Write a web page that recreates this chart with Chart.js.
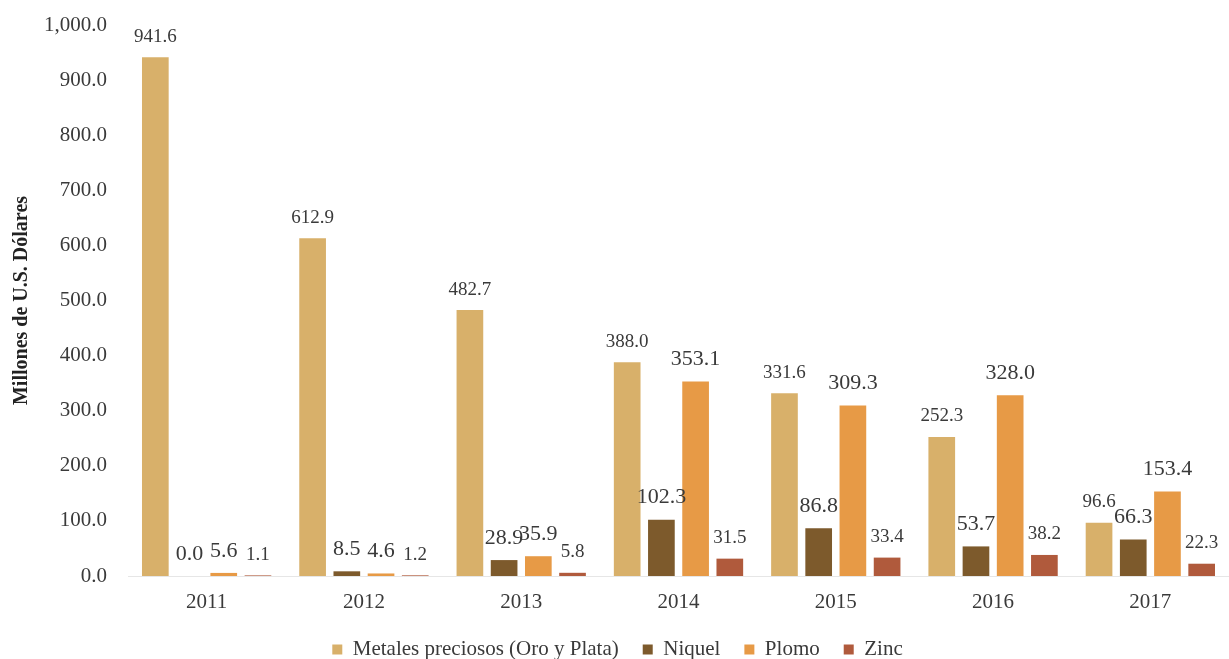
<!DOCTYPE html>
<html>
<head>
<meta charset="utf-8">
<script src="https://cdn.jsdelivr.net/npm/chart.js@4/dist/chart.umd.min.js"></script>
<style>
  html, body { margin: 0; padding: 0; background: #fff; }
  #wrap { width: 1229px; height: 659px; }
</style>
</head>
<body>
<div id="wrap"><canvas id="exportChart"></canvas></div>
<script>
// ====================================================================
// EXPORTACIONES DE METALES 2011-2017
// ====================================================================

const years = ['2011', '2012', '2013', '2014', '2015', '2016', '2017'];
const metales = [941.6, 612.9, 482.7, 388.0, 331.6, 252.3, 96.6];
const niquel = [0.0, 8.5, 28.9, 102.3, 86.8, 53.7, 66.3];
const plomo = [5.6, 4.6, 35.9, 353.1, 309.3, 328.0, 153.4];
const zinc = [1.1, 1.2, 5.8, 31.5, 33.4, 38.2, 22.3];

const SERIF = '"Liberation Serif", "Times New Roman", serif';
const TEXT = '#3a3a3a';

// size of the value labels per series (Niquel and Plomo print bigger)
const labelSizes = [19, 22, 22, 19];

const valueLabels = {
  id: 'valueLabels',
  afterDatasetsDraw(chart) {
    const ctx = chart.ctx;
    ctx.save();
    ctx.fillStyle = TEXT;
    ctx.textAlign = 'center';
    ctx.textBaseline = 'bottom';
    chart.data.datasets.forEach((ds, i) => {
      const meta = chart.getDatasetMeta(i);
      ctx.font = labelSizes[i] + 'px ' + SERIF;
      meta.data.forEach((bar, j) => {
        ctx.fillText(ds.data[j].toFixed(1), bar.x, bar.y - 11);
      });
    });
    ctx.restore();
  }
};

// legend sits lower than chart.js puts it, so trim its box height
const legendHeight = {
  id: 'legendHeight',
  beforeUpdate(chart) {
    const legend = chart.legend;
    if (!legend || legend._trimmed) return;
    const fit = legend.fit;
    legend.fit = function() {
      fit.call(this);
      this.height = 44;
    };
    legend._trimmed = true;
  }
};

const canvas = document.getElementById('exportChart');

new Chart(canvas.getContext('2d'), {
  type: 'bar',
  data: {
    labels: years,
    datasets: [
      { label: 'Metales preciosos (Oro y Plata)', data: metales, backgroundColor: '#d8b06a' },
      { label: 'Niquel', data: niquel, backgroundColor: '#7d5a2c' },
      { label: 'Plomo', data: plomo, backgroundColor: '#e79a46' },
      { label: 'Zinc', data: zinc, backgroundColor: '#b05a3c' }
    ]
  },
  options: {
    responsive: true,
    maintainAspectRatio: false,
    animation: false,
    layout: { padding: { top: 25, right: 0, left: 6, bottom: 0 } },
    datasets: {
      bar: { categoryPercentage: 0.87, barPercentage: 0.78 }
    },
    scales: {
      x: {
        grid: { display: false, drawTicks: false },
        border: { display: true, color: '#e6e6e6', width: 1 },
        ticks: { color: TEXT, font: { family: SERIF, size: 21 }, padding: 14 },
        afterFit: scale => { scale.height = 39; }
      },
      y: {
        min: 0,
        max: 1000,
        grid: { display: false, drawTicks: false },
        border: { display: false },
        ticks: {
          stepSize: 100,
          color: TEXT,
          padding: 21,
          font: { family: SERIF, size: 21 },
          callback: v => v.toLocaleString('en-US', { minimumFractionDigits: 1, maximumFractionDigits: 1 })
        },
        title: {
          display: true,
          text: 'Millones de U.S. Dólares',
          color: '#222',
          font: { family: SERIF, size: 20, weight: 'bold' },
          padding: { top: 4, bottom: 10 }
        },
        afterFit: scale => {
          scale.width = 122;
          scale.paddingTop = 0;
        }
      }
    },
    plugins: {
      legend: {
        position: 'bottom',
        labels: {
          color: TEXT,
          boxWidth: 10,
          boxHeight: 10,
          padding: 24,
          font: { family: SERIF, size: 21 }
        }
      },
      tooltip: { enabled: false }
    }
  },
  plugins: [valueLabels, legendHeight]
});
</script>
</body>
</html>
